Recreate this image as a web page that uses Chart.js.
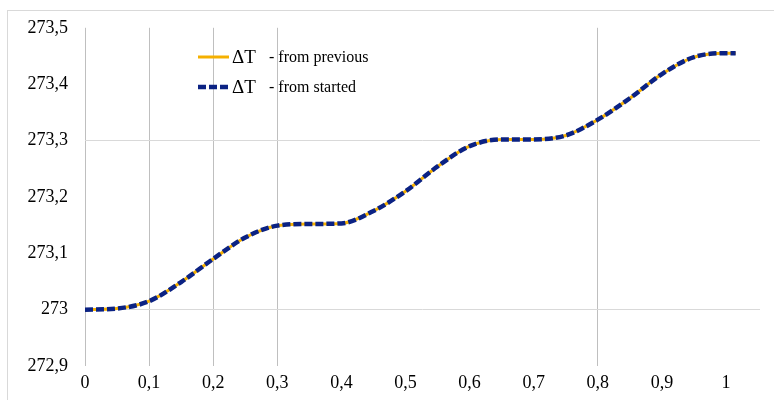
<!DOCTYPE html>
<html>
<head>
<meta charset="utf-8">
<script src="https://cdn.jsdelivr.net/npm/chart.js@4.4.1/dist/chart.umd.min.js"></script>
<style>
    html, body { margin: 0; padding: 0; background: #fff; }
    #wrap { width: 774px; height: 400px; position: relative; }
</style>
</head>
<body>
<div id="wrap"><canvas id="tempChart"></canvas></div>
<script>
// данные
const xValues = [0, 0.05, 0.1, 0.15, 0.2, 0.25, 0.3, 0.35, 0.4, 0.45, 0.5,
    0.55, 0.6, 0.65, 0.7, 0.75, 0.8, 0.85, 0.9, 0.95, 1.0, 1.015];
const fromPrevious = [273.0, 273.002, 273.015, 273.049, 273.09, 273.128, 273.149, 273.152, 273.153, 273.175, 273.21,
    273.254, 273.29, 273.302, 273.302, 273.309, 273.337, 273.375, 273.418, 273.448, 273.455, 273.455];
const fromStarted = [273.0, 273.002, 273.015, 273.049, 273.09, 273.128, 273.149, 273.152, 273.153, 273.175, 273.21,
    273.254, 273.29, 273.302, 273.302, 273.309, 273.337, 273.375, 273.418, 273.448, 273.455, 273.455];
const seriesNames = ['from previous', 'from started'];
const xTicks = [0, 0.1, 0.2, 0.3, 0.4, 0.5, 0.6, 0.7, 0.8, 0.9, 1];
const yTicks = [272.9, 273, 273.1, 273.2, 273.3, 273.4, 273.5];
const xGridShown = [0, 0.1, 0.2, 0.3, 0.8];
const yGridShown = [273, 273.3];

const serif = "'Liberation Serif', 'Times New Roman', serif";

function commaNum(v) {
    return String(Math.round(v * 10) / 10).replace('.', ',');
}
function inList(list, v) {
    return list.some(t => Math.abs(t - v) < 1e-6);
}

// рамка вокруг всей диаграммы
const framePlugin = {
    id: 'frame',
    beforeDraw(chart) {
        const c = chart.ctx;
        c.save();
        c.fillStyle = '#fff';
        c.fillRect(0, 0, chart.width, chart.height);
        c.strokeStyle = '#d9d9d9';
        c.lineWidth = 1;
        c.strokeRect(7.5, 10.5, chart.width + 20, chart.height + 20);
        c.restore();
    }
};

// легенда внутри области графика
const insideLegend = {
    id: 'insideLegend',
    afterDraw(chart) {
        const c = chart.ctx;
        const x0 = 198, y0 = 57, gap = 30;
        c.save();
        chart.data.datasets.forEach((ds, i) => {
            const y = y0 + i * gap;
            c.strokeStyle = ds.borderColor;
            c.lineWidth = ds.borderWidth;
            c.setLineDash(ds.borderDash || []);
            c.beginPath();
            c.moveTo(x0, y);
            c.lineTo(x0 + 31, y);
            c.stroke();
            c.setLineDash([]);
            c.fillStyle = '#000';
            c.textBaseline = 'middle';
            c.font = '19px ' + serif;
            c.fillText('ΔT', x0 + 34, y + 1);
            c.font = '16px ' + serif;
            c.fillText('- ' + seriesNames[i], x0 + 71, y + 1);
        });
        c.restore();
    }
};

let chart;
document.addEventListener('DOMContentLoaded', () => {
    const ctx = document.getElementById('tempChart').getContext('2d');
    chart = new Chart(ctx, {
        type: 'line',
        data: {
            datasets: [{
                label: 'ΔT - ' + seriesNames[0],
                data: xValues.map((x, i) => ({ x: x, y: fromPrevious[i] })),
                borderColor: '#f5b000',
                borderWidth: 3,
                pointRadius: 0,
                cubicInterpolationMode: 'monotone',
                order: 1
            }, {
                label: 'ΔT - ' + seriesNames[1],
                data: xValues.map((x, i) => ({ x: x, y: fromStarted[i] })),
                borderColor: '#0b2283',
                borderWidth: 4.5,
                borderDash: [8, 3],
                pointRadius: 0,
                cubicInterpolationMode: 'monotone',
                order: 0
            }]
        },
        options: {
            responsive: true,
            maintainAspectRatio: false,
            animation: false,
            layout: { padding: { top: 26, right: 14, bottom: 0, left: 0 } },
            scales: {
                x: {
                    type: 'linear',
                    min: 0,
                    max: 1.053,
                    afterBuildTicks: s => { s.ticks = xTicks.map(v => ({ value: v })); },
                    afterFit: s => { s.height = 34; },
                    border: { display: false },
                    grid: {
                        drawTicks: false,
                        lineWidth: 1,
                        color: c => inList(xGridShown, c.tick.value) ? '#bfbfbf' : 'rgba(0,0,0,0)'
                    },
                    ticks: {
                        padding: 6,
                        color: '#000',
                        font: { family: serif, size: 18 },
                        maxRotation: 0,
                        callback: v => commaNum(v)
                    }
                },
                y: {
                    min: 272.9,
                    max: 273.5,
                    afterBuildTicks: s => { s.ticks = yTicks.map(v => ({ value: v })); },
                    afterFit: s => { s.width = 85; },
                    border: { display: false },
                    grid: {
                        drawTicks: false,
                        lineWidth: 1,
                        color: c => inList(yGridShown, c.tick.value) ? '#d9d9d9' : 'rgba(0,0,0,0)'
                    },
                    ticks: {
                        padding: 17,
                        color: '#000',
                        font: { family: serif, size: 18 },
                        callback: v => commaNum(v)
                    }
                }
            },
            plugins: {
                legend: { display: false },
                tooltip: { enabled: false }
            }
        },
        plugins: [framePlugin, insideLegend]
    });
});
</script>
</body>
</html>
